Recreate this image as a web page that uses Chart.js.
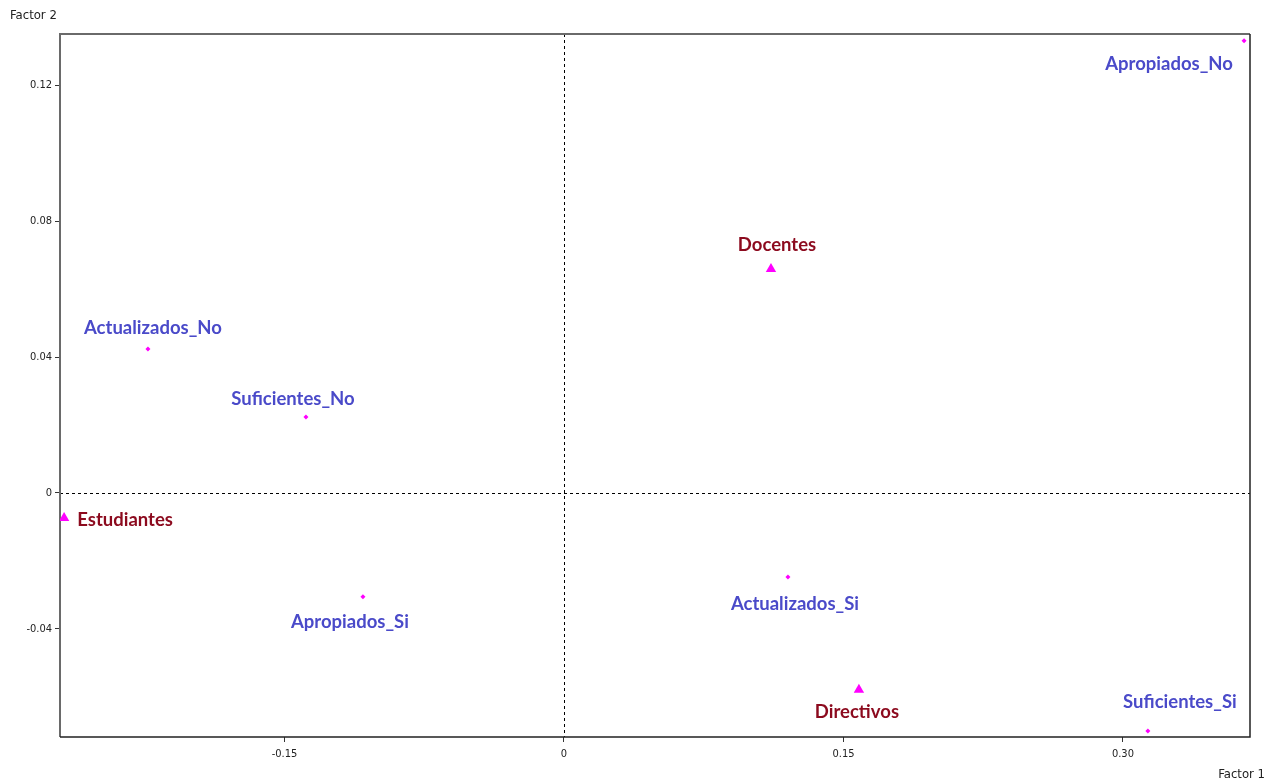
<!DOCTYPE html>
<html>
<head>
<meta charset="utf-8">
<script src="https://cdn.jsdelivr.net/npm/chart.js@4"></script>
<style>
  html, body { margin: 0; padding: 0; background: #fff; }
  canvas { display: block; }
</style>
</head>
<body>
<canvas id="chart" width="1276" height="783"></canvas>
<script>
// modalidades (blue labels, small diamonds)
const modalidades = ["Apropiados_No", "Actualizados_No", "Suficientes_No", "Apropiados_Si", "Actualizados_Si", "Suficientes_Si"]
const modX = [0.365, -0.2233, -0.1385, -0.1079, 0.1202, 0.3134]
const modY = [0.1332, 0.0424, 0.0224, -0.0306, -0.0248, -0.0701]

// grupos (red labels, triangles)
const grupos = ["Docentes", "Estudiantes", "Directivos"]
const grupoX = [0.1111, -0.2683, 0.1583]
const grupoY = [0.0660, -0.0074, -0.0580]

const xTicks = [-0.15, 0, 0.15, 0.30]
const xTickLabels = ["-0.15", "0", "0.15", "0.30"]
const yTicks = [-0.04, 0, 0.04, 0.08, 0.12]
const yTickLabels = ["-0.04", "0", "0.04", "0.08", "0.12"]

// label offsets in pixels from the point (style only)
const labelOffsets = {
   "Apropiados_No": [-75, 23],
   "Actualizados_No": [5, -21],
   "Suficientes_No": [-13, -18],
   "Apropiados_Si": [-13, 25],
   "Actualizados_Si": [7, 27],
   "Suficientes_Si": [32, -29],
   "Docentes": [6, -24],
   "Estudiantes": [61, 2],
   "Directivos": [-2, 22]
}

const narrow = "'Liberation Sans Narrow', 'DejaVu Sans Condensed', 'Liberation Sans', sans-serif"
const blue = "#4a4ac9"
const red = "#8c0a1e"
const magenta = "#ff00ff"

const frameAndLabels = {
   id: "frameAndLabels",
   beforeDatasetsDraw(chart) {
      const { ctx, chartArea: a, scales } = chart
      const x0 = scales.x.getPixelForValue(0)
      const y0 = scales.y.getPixelForValue(0)
      ctx.save()
      ctx.strokeStyle = "#000"
      ctx.lineWidth = 1
      ctx.setLineDash([3, 3])
      ctx.beginPath()
      ctx.moveTo(Math.round(x0) + 0.5, a.top)
      ctx.lineTo(Math.round(x0) + 0.5, a.bottom)
      ctx.moveTo(a.left, Math.round(y0) + 0.5)
      ctx.lineTo(a.right, Math.round(y0) + 0.5)
      ctx.stroke()
      ctx.setLineDash([])
      // frame
      ctx.lineWidth = 2
      ctx.strokeStyle = "#6a6a6a"
      ctx.beginPath()
      ctx.moveTo(a.left, a.bottom)
      ctx.lineTo(a.left, a.top)
      ctx.lineTo(a.right, a.top)
      ctx.stroke()
      ctx.strokeStyle = "#222"
      ctx.lineWidth = 1.5
      ctx.beginPath()
      ctx.moveTo(a.right, a.top)
      ctx.lineTo(a.right, a.bottom)
      ctx.lineTo(a.left, a.bottom)
      ctx.stroke()
      // axis titles
      ctx.fillStyle = "#222"
      ctx.font = "13px " + narrow
      ctx.textBaseline = "middle"
      ctx.textAlign = "left"
      ctx.fillText("Factor 2", 10, 16)
      ctx.textAlign = "right"
      ctx.fillText("Factor 1", 1265, 775)
      ctx.restore()
   },
   afterDatasetsDraw(chart) {
      const { ctx } = chart
      ctx.save()
      ctx.font = "bold 18.5px Lato, 'Open Sans', sans-serif"
      ctx.textAlign = "center"
      ctx.textBaseline = "middle"
      chart.data.datasets.forEach((ds, di) => {
         const meta = chart.getDatasetMeta(di)
         meta.data.forEach((pt, i) => {
            const name = ds.names[i]
            const off = labelOffsets[name] || [0, -20]
            ctx.fillStyle = ds.labelColor
            ctx.fillText(name, pt.x + off[0], pt.y + off[1])
         })
      })
      ctx.restore()
   }
}

new Chart(document.getElementById("chart"), {
   type: "scatter",
   data: {
      datasets: [{
         names: modalidades,
         labelColor: blue,
         data: modX.map((x, i) => ({ x: x, y: modY[i] })),
         pointStyle: "rectRot",
         pointRadius: 2.5,
         backgroundColor: magenta,
         borderColor: magenta,
         borderWidth: 0
      }, {
         names: grupos,
         labelColor: red,
         data: grupoX.map((x, i) => ({ x: x, y: grupoY[i] })),
         pointStyle: "triangle",
         pointRadius: 6,
         backgroundColor: magenta,
         borderColor: magenta,
         borderWidth: 0
      }]
   },
   options: {
      responsive: false,
      animation: false,
      layout: { padding: { top: 34, right: 26, left: 0, bottom: 0 } },
      plugins: {
         legend: { display: false },
         tooltip: { enabled: false }
      },
      scales: {
         x: {
            type: "linear",
            min: -0.2705,
            max: 0.3682,
            afterBuildTicks: (scale) => { scale.ticks = xTicks.map(v => ({ value: v })) },
            afterFit: (scale) => { scale.height = 46 },
            grid: { drawOnChartArea: false, drawTicks: true, tickLength: 5, tickColor: "#333", color: "#333" },
            border: { display: false },
            ticks: {
               padding: 6,
               color: "#222",
               maxRotation: 0,
               autoSkip: false,
               font: { size: 11, family: narrow },
               callback: (v) => xTickLabels[xTicks.indexOf(v)]
            }
         },
         y: {
            type: "linear",
            min: -0.0719,
            max: 0.1352,
            afterBuildTicks: (scale) => { scale.ticks = yTicks.map(v => ({ value: v })) },
            afterFit: (scale) => { scale.width = 60 },
            grid: { drawOnChartArea: false, drawTicks: true, tickLength: 5, tickColor: "#333", color: "#333" },
            border: { display: false },
            ticks: {
               padding: 3,
               color: "#222",
               autoSkip: false,
               font: { size: 11, family: narrow },
               callback: (v) => yTickLabels[yTicks.indexOf(v)]
            }
         }
      }
   },
   plugins: [frameAndLabels]
})
</script>
</body>
</html>
